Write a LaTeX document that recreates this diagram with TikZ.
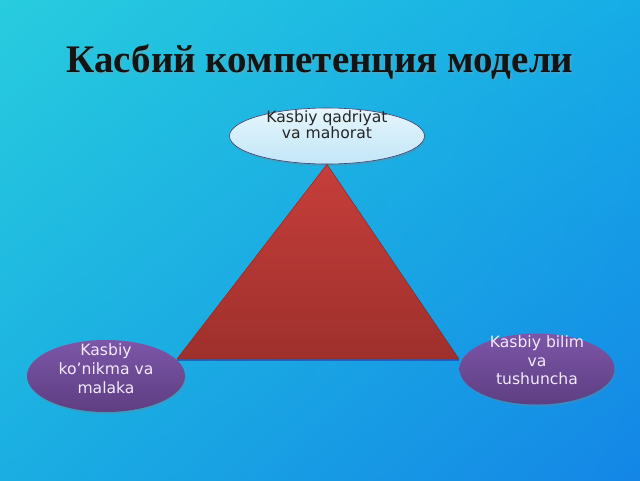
\documentclass[tikz,border=0pt]{standalone}
\usepackage{fontspec}
\setmainfont{Liberation Serif}
\newfontfamily\nodefont{DejaVu Sans}
\usetikzlibrary{shapes.geometric,shadows,shadings}
\definecolor{bgTL}{HTML}{28CCDE}
\definecolor{bgTR}{HTML}{16ACE6}
\definecolor{bgBL}{HTML}{1AAEE2}
\definecolor{bgBR}{HTML}{1486E6}
\definecolor{triTop}{HTML}{C63E3B}
\definecolor{triBot}{HTML}{9E302C}
\definecolor{topA}{HTML}{E6F6FC}
\definecolor{topB}{HTML}{C2E6F8}
\definecolor{purA}{HTML}{7C56A8}
\definecolor{purB}{HTML}{5E3E82}
\definecolor{purText}{HTML}{F2EAFA}
\tikzset{
  oval/.style={ellipse, inner sep=0pt, drop shadow={opacity=0.35, shadow xshift=1pt, shadow yshift=-2pt}},
  lightoval/.style={oval, top color=topA, bottom color=topB, draw=black!60!blue!50!gray, line width=0.6pt},
  purpleoval/.style={oval, top color=purA, bottom color=purB},
  darktext/.style={font=\nodefont\fontsize{15.6}{15.8}\selectfont, align=center, text=black!85, inner sep=0pt},
  lighttext/.style={font=\nodefont\fontsize{15.6}{19}\selectfont, align=center, text=purText, inner sep=0pt},
}
\begin{document}
\begin{tikzpicture}[x=1pt,y=-1pt]
\useasboundingbox (0,0) rectangle (640,480);
\shade[upper left=bgTL, upper right=bgTR, lower left=bgBL, lower right=bgBR] (0,0) rectangle (640,480);
% title
\node[font=\bfseries\fontsize{39}{42}\selectfont, text=black!40, opacity=0.35] (titleshadow) at (321.5,63.5) {Касбий компетенция модели};
\node[font=\bfseries\fontsize{39}{42}\selectfont, text=black!92] (title) at (320,62) {Касбий компетенция модели};
% nodes
\node[lightoval, minimum width=195pt, minimum height=56pt] (top) at (327,136) {};
\node[purpleoval, minimum width=158pt, minimum height=72pt] (left) at (106,376) {};
\node[purpleoval, minimum width=155pt, minimum height=71pt] (right) at (537,369) {};
% triangle
\coordinate (bl) at (177,359);
\coordinate (br) at (459,359);
\draw[draw=black!30!blue!60!gray, line width=1.2pt, opacity=0.6] ([yshift=-1pt]bl) -- ([yshift=-1pt]br);
\shade[top color=triTop, bottom color=triBot, draw=triBot!80!black, line width=0.4pt] (top.south) -- (br) -- (bl) -- cycle;
% texts
\node[darktext] (toptext) at (327,124.5) {Kasbiy qadriyat\\va mahorat};
\node[lighttext] (lefttext) at (106,369) {Kasbiy\\ko’nikma va\\malaka};
\node[lighttext, font=\nodefont\fontsize{15.6}{18.5}\selectfont] (righttext) at (537,360.5) {Kasbiy bilim\\va\\tushuncha};
\end{tikzpicture}
\end{document}
